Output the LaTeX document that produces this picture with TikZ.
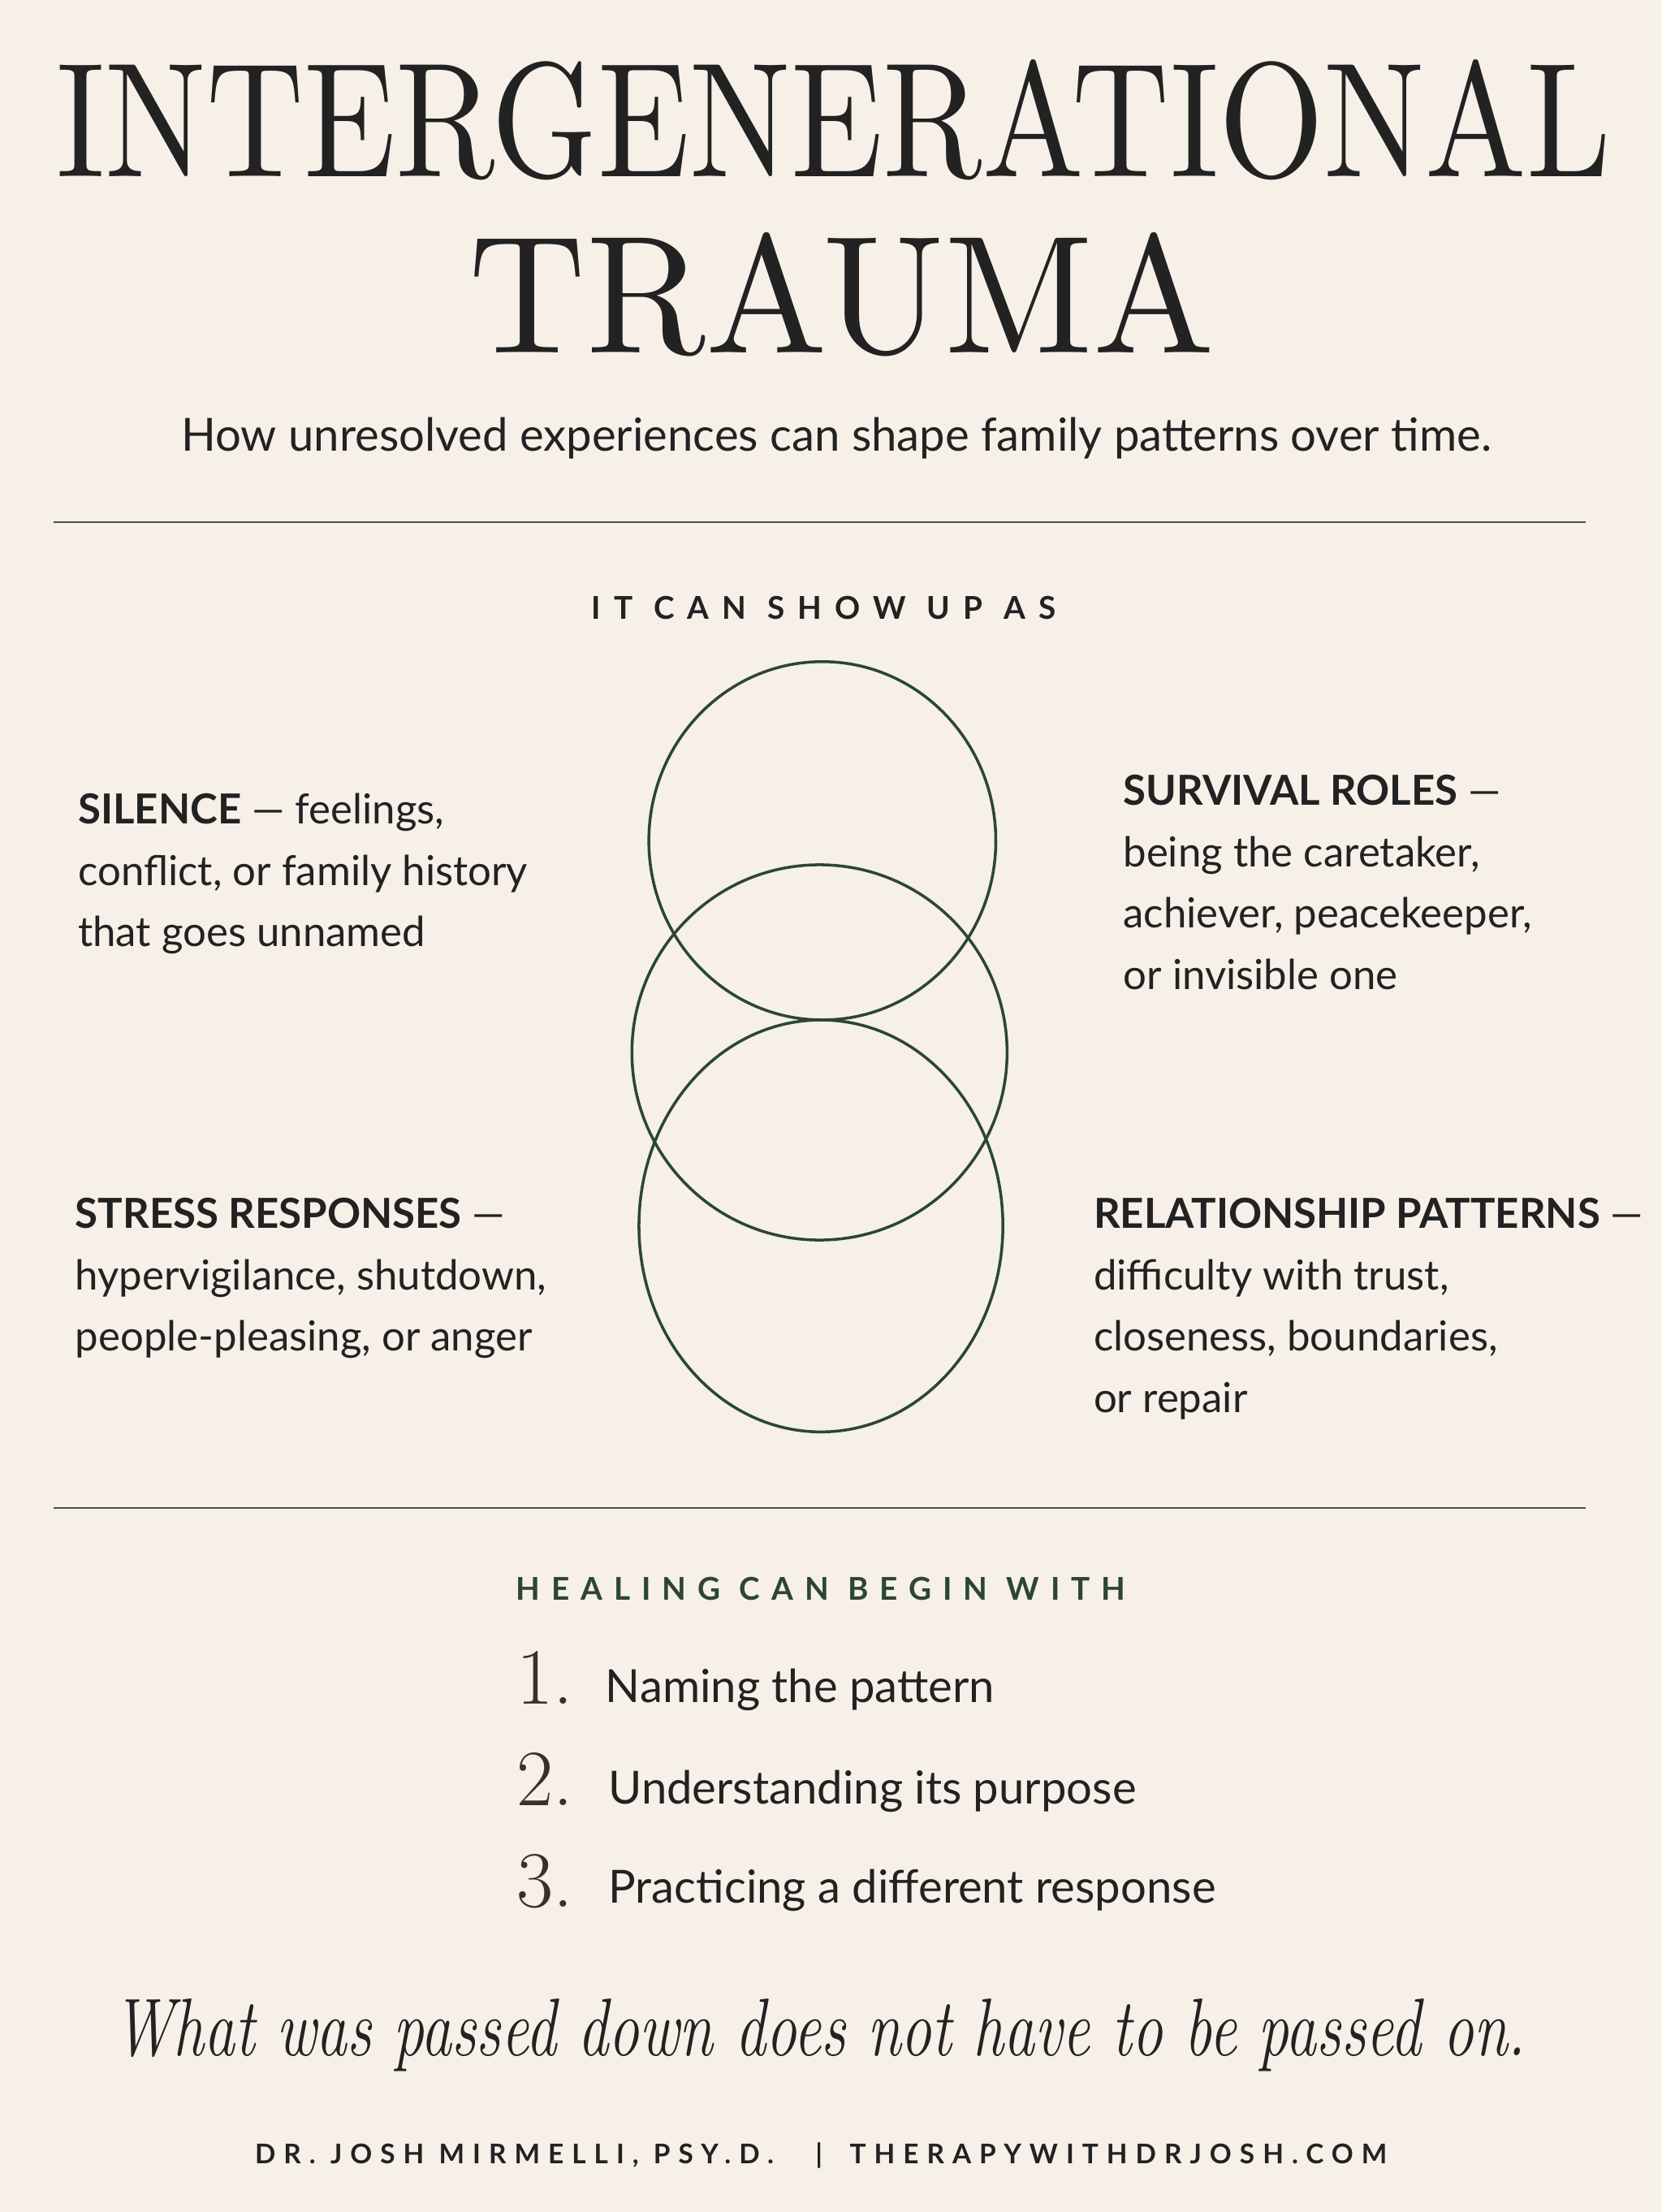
\documentclass[tikz,border=0pt]{standalone}
\usepackage{fontspec}
\setmainfont{Lato}
\newfontfamily\titlefont{Latin Modern Roman}
\usetikzlibrary{positioning}
\definecolor{paper}{HTML}{F6F0E8}
\definecolor{ink}{HTML}{222222}
\definecolor{leaf}{HTML}{2C4632}
\tikzset{
  body/.style={anchor=north west, align=left, text=ink, font=\fontsize{14.5}{21.5}\selectfont, inner sep=0pt},
  spaced/.style={text=ink, font=\fontsize{11}{13}\selectfont\addfontfeature{LetterSpace=42}\bfseries},
  ring/.style={draw=leaf, line width=1pt},
  rule/.style={draw=ink!80, line width=0.6pt},
  healstep/.style={anchor=base west, text=ink, font=\fontsize{16}{18}\selectfont, inner sep=0pt},
  num/.style={anchor=base west, text=ink!85!brown, font=\titlefont\fontsize{28}{30}\selectfont, inner sep=0pt}
}
\begin{document}
\begin{tikzpicture}[x=0.017377cm, y=-0.017377cm]
		
		% Draw the background
		\fill[paper] (0,0) rectangle (1178,1568);
		\useasboundingbox (0,0) rectangle (1178,1568);
		
		% Draw the title
		\node (title1) [anchor=south, inner sep=0pt, text=ink] at (591,128) {\titlefont\resizebox{19.15cm}{1.44cm}{INTERGENERATIONAL}};
		\node (title2) [anchor=south, inner sep=0pt, text=ink] at (597,253) {\titlefont\resizebox{9.19cm}{1.48cm}{TRAUMA}};
		\node (subtitle) [anchor=base, text=ink, font=\fontsize{16}{18}\selectfont] at (593,320) {How unresolved experiences can shape family patterns over time.};
		
		% Draw the rules
		\coordinate (ruleAl) at (38,370);
		\coordinate (ruleAr) at (1124,370);
		\coordinate (ruleBl) at (38,1069);
		\coordinate (ruleBr) at (1124,1069);
		\draw[rule] (ruleAl) -- (ruleAr);
		\draw[rule] (ruleBl) -- (ruleBr);
		
		% Draw the heading
		\node (showup) [spaced, anchor=base] at (584,439) {IT CAN SHOW UP AS};
		
		% Draw the rings
		\draw[ring] (583,596) ellipse [x radius=123, y radius=127];
		\draw[ring] (581,746) ellipse [x radius=133, y radius=133];
		\draw[ring] (582,869) ellipse [x radius=129, y radius=146];
		
		% Draw the four patterns
		\node (silence) [body] at (55,562) {\textbf{SILENCE} — feelings,\\conflict, or family history\\that goes unnamed};
		\node (roles) [body] at (796,549) {\textbf{SURVIVAL ROLES} —\\being the caretaker,\\achiever, peacekeeper,\\or invisible one};
		\node (stress) [body] at (53,849) {\textbf{STRESS RESPONSES} —\\hypervigilance, shutdown,\\people-pleasing, or anger};
		\node (relation) [body] at (775,849) {\textbf{RELATIONSHIP PATTERNS} —\\difficulty with trust,\\closeness, boundaries,\\or repair};
		
		% Draw the healing list
		\node (healing) [spaced, anchor=base, text=leaf, font=\fontsize{11}{13}\selectfont\addfontfeature{LetterSpace=36}\bfseries] at (582,1134) {HEALING CAN BEGIN WITH};
		\node (num1) [num] at (366,1208) {1.};
		\node (num2) [num] at (366,1280) {2.};
		\node (num3) [num] at (366,1352) {3.};
		\node (step1) [healstep] at (429,1207) {Naming the pattern};
		\node (step2) [healstep] at (431,1279) {Understanding its purpose};
		\node (step3) [healstep] at (431,1349) {Practicing a different response};
		
		% Draw the closing line
		\node (quote) [anchor=base, inner sep=0pt, text=ink, font=\titlefont\itshape\fontsize{30}{32}\selectfont] at (581,1457) {\resizebox{17.41cm}{0.70cm}{What was passed down does not have to be passed on.}};
		\node (footer) [spaced, anchor=base, font=\fontsize{9.5}{12}\selectfont\addfontfeature{LetterSpace=30}\bfseries] at (582,1534) {DR. JOSH MIRMELLI, PSY.D. \quad|\quad THERAPYWITHDRJOSH.COM};
\end{tikzpicture}
\end{document}
